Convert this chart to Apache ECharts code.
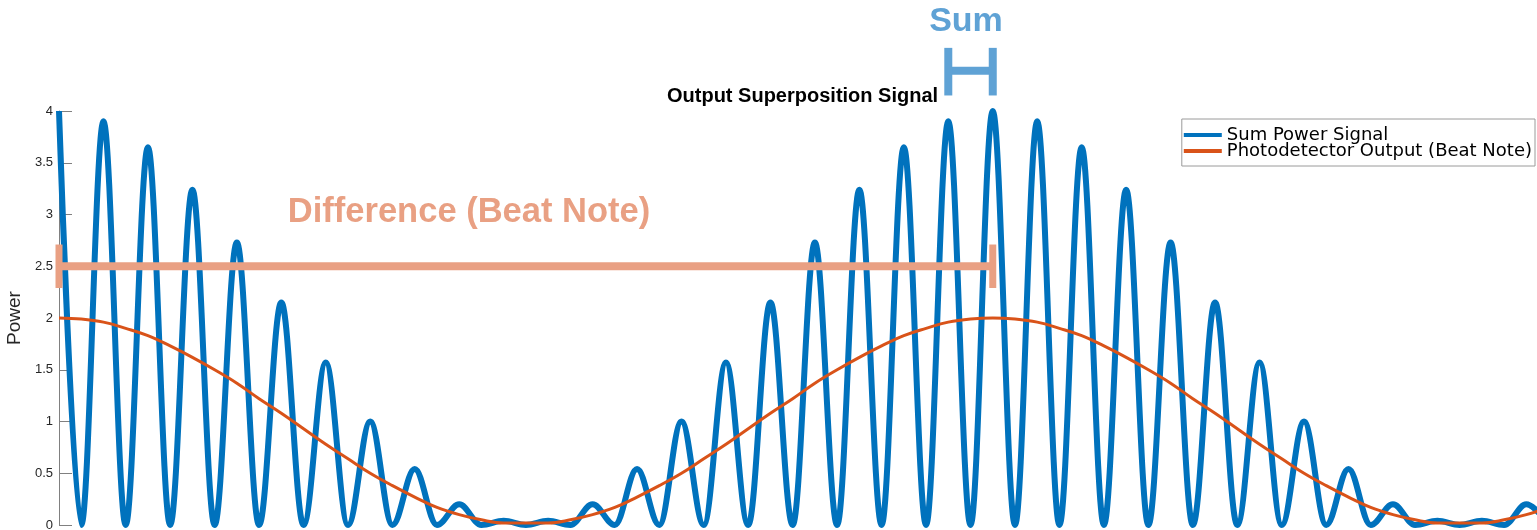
<!DOCTYPE html>
<html>
<head>
<meta charset="utf-8">
<title>Output Superposition Signal</title>
<script src="https://cdn.jsdelivr.net/npm/echarts@6/dist/echarts.min.js"></script>
<style>
  html, body { margin: 0; padding: 0; background: #fff; }
  #chart { width: 1537px; height: 530px; }
</style>
</head>
<body>
<div id="chart"></div>
<script>
// peak heights of the sum power signal, one per carrier period (troughs sit at 0)
const sumPeaks = [4.0, 3.9, 3.65, 3.24, 2.73, 2.15, 1.57, 1.0, 0.54, 0.2, 0.04,
  0.04, 0.2, 0.54, 1.0, 1.57, 2.15, 2.73, 3.24, 3.65, 3.9, 4.0,
  3.9, 3.65, 3.24, 2.73, 2.15, 1.57, 1.0, 0.54, 0.2, 0.04, 0.04, 0.2];
const sumTrough = 0;
// photodetector output, read every half carrier period
const beatNote = [2.0, 1.99, 1.96, 1.9, 1.83, 1.73, 1.62, 1.5, 1.37, 1.22, 1.08,
  0.93, 0.78, 0.64, 0.5, 0.38, 0.27, 0.17, 0.1, 0.05, 0.02, 0.02,
  0.02, 0.05, 0.1, 0.17, 0.27, 0.38, 0.5, 0.64, 0.78, 0.93, 1.08,
  1.22, 1.37, 1.5, 1.62, 1.73, 1.83, 1.9, 1.96, 1.99, 2.0,
  1.99, 1.96, 1.9, 1.83, 1.73, 1.62, 1.5, 1.37, 1.22, 1.08,
  0.93, 0.78, 0.64, 0.5, 0.38, 0.27, 0.17, 0.1, 0.05, 0.02, 0.02,
  0.02, 0.05, 0.1, 0.17];
const seriesNames = ['Sum Power Signal', 'Photodetector Output (Beat Note)'];
const FONT = '"Liberation Sans", Arial, Helvetica, sans-serif';

const sumData = [];
sumPeaks.forEach(function (v, i) {
  sumData.push([i, v]);
  sumData.push([i + 0.5, sumTrough]);
});
const beatData = beatNote.map(function (v, i) { return [i * 0.5, v]; });

const chart = echarts.init(document.getElementById('chart'));
chart.setOption({
  animation: false,
  textStyle: { fontFamily: FONT },
  title: {
    text: 'Output Superposition Signal',
    left: 667,
    top: 86,
    padding: 0,
    textStyle: { fontSize: 20, fontWeight: 'bold', color: '#000', fontFamily: FONT }
  },
  legend: {
    data: seriesNames,
    orient: 'vertical',
    right: 2,
    top: 119,
    padding: [7, 3, 6, 2],
    itemGap: -2,
    itemWidth: 38,
    itemHeight: 4,
    icon: 'rect',
    borderColor: '#9a9a9a',
    borderWidth: 1,
    borderRadius: 0,
    backgroundColor: '#fff',
    textStyle: { fontSize: 18, color: '#000', fontFamily: '"DejaVu Sans", sans-serif' }
  },
  grid: { left: 59, right: 0, top: 111, bottom: 5, outerBoundsMode: 'none' },
  xAxis: {
    type: 'value',
    min: 0,
    max: 33.24,
    show: false
  },
  yAxis: {
    type: 'value',
    min: 0,
    max: 4,
    interval: 0.5,
    name: 'Power',
    nameLocation: 'middle',
    nameGap: 30,
    nameTextStyle: { fontSize: 19, color: '#262626', fontFamily: FONT },
    axisLine: { show: true, lineStyle: { color: '#808080', width: 1 } },
    axisTick: { show: true, inside: true, length: 13, lineStyle: { color: '#808080' } },
    axisLabel: { fontSize: 13, color: '#262626', margin: 6, fontFamily: FONT },
    splitLine: { show: false }
  },
  series: [
    {
      name: seriesNames[0],
      type: 'line',
      data: sumData,
      showSymbol: false,
      smooth: 0.36,
      smoothMonotone: 'x',
      lineStyle: { color: '#0072BD', width: 6 },
      itemStyle: { color: '#0072BD' }
    },
    {
      name: seriesNames[1],
      type: 'line',
      data: beatData,
      showSymbol: false,
      smooth: 0.4,
      lineStyle: { color: '#D95319', width: 3 },
      itemStyle: { color: '#D95319' }
    }
  ]
});

// annotations placed through the chart's own scales
function px(x, y) {
  return chart.convertToPixel({ xAxisIndex: 0, yAxisIndex: 0 }, [x, y]);
}
const diffColor = '#E9A083';
const sumColor = '#5FA2D5';
const dA = px(0, 2.5), dB = px(21, 2.5);
const dCapTop = px(0, 2.71)[1], dCapBot = px(0, 2.29)[1];
const sA = px(20, 4.39), sB = px(21, 4.39);
const sTop = px(20, 4.61)[1], sBot = px(20, 4.15)[1];

chart.setOption({
  graphic: [
    { type: 'line', shape: { x1: dA[0], y1: dA[1], x2: dB[0], y2: dB[1] },
      style: { stroke: diffColor, lineWidth: 8 }, z: 10 },
    { type: 'line', shape: { x1: dA[0], y1: dCapTop, x2: dA[0], y2: dCapBot },
      style: { stroke: diffColor, lineWidth: 7 }, z: 10 },
    { type: 'line', shape: { x1: dB[0], y1: dCapTop, x2: dB[0], y2: dCapBot },
      style: { stroke: diffColor, lineWidth: 7 }, z: 10 },
    { type: 'text', x: 469, y: 212,
      style: { text: 'Difference (Beat Note)', fill: diffColor, align: 'center', verticalAlign: 'middle',
        font: 'bold 34.5px ' + FONT }, z: 10 },
    { type: 'line', shape: { x1: sA[0], y1: sA[1], x2: sB[0], y2: sB[1] },
      style: { stroke: sumColor, lineWidth: 8 }, z: 10 },
    { type: 'line', shape: { x1: sA[0], y1: sTop, x2: sA[0], y2: sBot },
      style: { stroke: sumColor, lineWidth: 8 }, z: 10 },
    { type: 'line', shape: { x1: sB[0], y1: sTop, x2: sB[0], y2: sBot },
      style: { stroke: sumColor, lineWidth: 8 }, z: 10 },
    { type: 'text', x: 966, y: 22,
      style: { text: 'Sum', fill: sumColor, align: 'center', verticalAlign: 'middle',
        font: 'bold 34px ' + FONT }, z: 10 }
  ]
});
</script>
</body>
</html>
